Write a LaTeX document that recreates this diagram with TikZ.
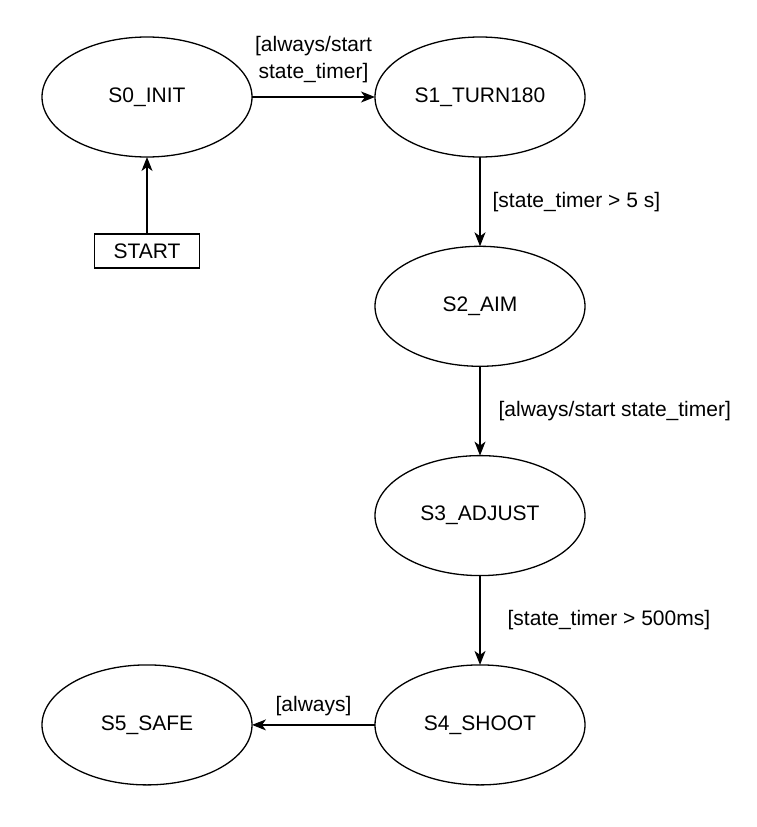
\documentclass[tikz,border=0pt]{standalone}
\usepackage{fontspec}
\setmainfont{Liberation Sans}
\usepackage{tikz}
\usetikzlibrary{arrows.meta,positioning,shapes.geometric}
\tikzset{
  state/.style={draw, ellipse, line width=1.3pt, outer sep=0pt,
                minimum width=210pt, minimum height=120pt,
                font=\fontsize{21}{25}\selectfont},
  startbox/.style={draw, line width=1.3pt, outer sep=0pt,
                   minimum width=105pt, minimum height=34pt,
                   font=\fontsize{21}{25}\selectfont},
  flow/.style={-{Stealth[length=14pt, width=11pt, inset=4pt]}, line width=1.3pt},
  lbl/.style={font=\fontsize{21}{27}\selectfont, align=center, inner sep=0pt},
}
\begin{document}
\begin{tikzpicture}[x=1pt, y=1pt, node distance=89.3pt and 123pt]
  \useasboundingbox (0,0) rectangle (757,-827);
  \node[state] (s0) at (147,-97) {S0\_INIT};
  \node[state, right=of s0] (s1) {S1\_TURN180};
  \node[state, below=of s1] (s2) {S2\_AIM};
  \node[state, below=of s2] (s3) {S3\_ADJUST};
  \node[state, below=of s3] (s4) {S4\_SHOOT};
  \node[state, left=of s4] (s5) {S5\_SAFE};
  \node[startbox, below=77pt of s0] (start) {START};
  \draw[flow] (start.north) -- (s0.south);
  \draw[flow] (s0.east) -- node[lbl, above=13pt] {[always/start\\state\_timer]} (s1.west);
  \draw[flow] (s1.south) -- node[lbl, right=12pt] {[state\_timer > 5 s]} (s2.north);
  \draw[flow] (s2.south) -- node[lbl, right=18pt] {[always/start state\_timer]} (s3.north);
  \draw[flow] (s3.south) -- node[lbl, right=27pt] {[state\_timer > 500ms]} (s4.north);
  \draw[flow] (s4.west) -- node[lbl, above=8pt] {[always]} (s5.east);
\end{tikzpicture}
\end{document}
